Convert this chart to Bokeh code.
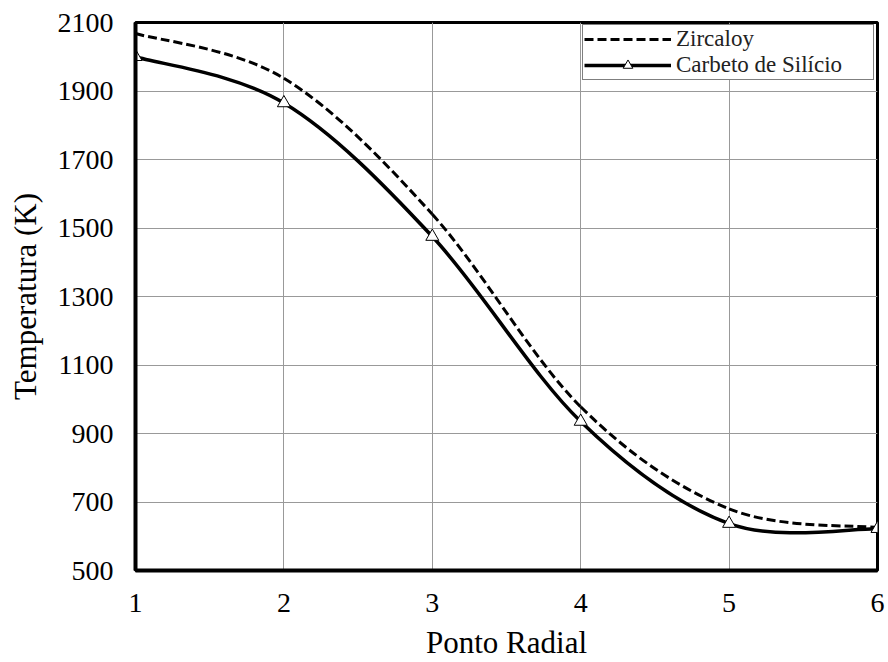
from bokeh.plotting import figure
from bokeh.models import FixedTicker, Legend, LegendItem, ColumnDataSource
from bokeh.embed import file_html
from bokeh.resources import INLINE

# Data
ponto = [1, 2, 3, 4, 5, 6]
zircaloy = [2068, 1937, 1540, 978, 680, 625]
carbeto = [2000, 1865, 1475, 935, 637, 622]
y_ticks = [500, 700, 900, 1100, 1300, 1500, 1700, 1900, 2100]
x_ticks = [1, 2, 3, 4, 5, 6]

FONT = "Liberation Serif"


def smooth_segments(xs, ys):
    """Catmull-Rom style Bezier control points (as Excel smoothed lines)."""
    n = len(xs)
    out = dict(x0=[], y0=[], x1=[], y1=[], cx0=[], cy0=[], cx1=[], cy1=[])
    for i in range(n - 1):
        im1 = max(i - 1, 0)
        ip2 = min(i + 2, n - 1)
        out["x0"].append(xs[i]); out["y0"].append(ys[i])
        out["x1"].append(xs[i + 1]); out["y1"].append(ys[i + 1])
        out["cx0"].append(xs[i] + (xs[i + 1] - xs[im1]) / 6)
        out["cy0"].append(ys[i] + (ys[i + 1] - ys[im1]) / 6)
        out["cx1"].append(xs[i + 1] - (xs[ip2] - xs[i]) / 6)
        out["cy1"].append(ys[i + 1] - (ys[ip2] - ys[i]) / 6)
    return ColumnDataSource(out)


p = figure(width=888, height=662, x_range=(1, 6), y_range=(500, 2100),
           output_backend="svg", toolbar_location=None,
           min_border_left=135, min_border_right=11,
           min_border_top=22, min_border_bottom=90)

p.background_fill_color = "white"
p.border_fill_color = "white"
p.outline_line_color = "black"
p.outline_line_width = 3

p.xaxis.ticker = FixedTicker(ticks=x_ticks)
p.yaxis.ticker = FixedTicker(ticks=y_ticks)
for ax in (p.xaxis, p.yaxis):
    ax.major_tick_out = 0
    ax.major_tick_in = 0
    ax.minor_tick_out = 0
    ax.minor_tick_in = 0
    ax.axis_line_color = "black"
    ax.axis_line_width = 4
    ax.major_label_text_font = FONT
    ax.major_label_text_font_size = "28px"
    ax.major_label_text_font_style = "normal"
    ax.major_label_text_color = "black"
    ax.axis_label_text_font = FONT
    ax.axis_label_text_font_size = "31px"
    ax.axis_label_text_font_style = "normal"
    ax.axis_label_text_color = "black"

p.xaxis.axis_label = "Ponto Radial"
p.yaxis.axis_label = "Temperatura (K)"
p.xaxis.major_label_standoff = 23
p.yaxis.major_label_standoff = 22
p.xaxis.axis_label_standoff = 10
p.yaxis.axis_label_standoff = 12

p.xgrid.grid_line_color = "#999999"
p.ygrid.grid_line_color = "#999999"
p.xgrid.grid_line_width = 1
p.ygrid.grid_line_width = 1

src_z = smooth_segments(ponto, zircaloy)
src_c = smooth_segments(ponto, carbeto)

rz = p.bezier(x0="x0", y0="y0", x1="x1", y1="y1", cx0="cx0", cy0="cy0",
              cx1="cx1", cy1="cy1", source=src_z, line_color="black",
              line_width=3, line_dash="9 4")
rc = p.bezier(x0="x0", y0="y0", x1="x1", y1="y1", cx0="cx0", cy0="cy0",
              cx1="cx1", cy1="cy1", source=src_c, line_color="black",
              line_width=3.5)
rm = p.scatter(ponto, carbeto, marker="triangle", size=13,
               line_color="black", line_width=1, fill_color="white")

# Legend proxies
lz = p.line([1, 1], [0, 0], line_color="black", line_width=3, line_dash="9 4")
lc = p.line([1, 1], [0, 0], line_color="black", line_width=3.5)

legend = Legend(items=[
    LegendItem(label="Zircaloy", renderers=[lz]),
    LegendItem(label="Carbeto de Silício", renderers=[lc, rm]),
], location=(447, 490))
legend.border_line_color = "black"
legend.border_line_width = 1.5
legend.background_fill_color = "white"
legend.background_fill_alpha = 1
legend.label_text_font = FONT
legend.label_text_font_size = "23px"
legend.label_text_font_style = "normal"
legend.label_text_color = "#222222"
legend.glyph_width = 87
legend.glyph_height = 24
legend.label_standoff = 5
legend.label_width = 196
legend.label_height = 24
legend.padding = 1
legend.spacing = 0
legend.margin = 0
p.add_layout(legend, "center")

open("out.html", "w").write(file_html(p, INLINE))
